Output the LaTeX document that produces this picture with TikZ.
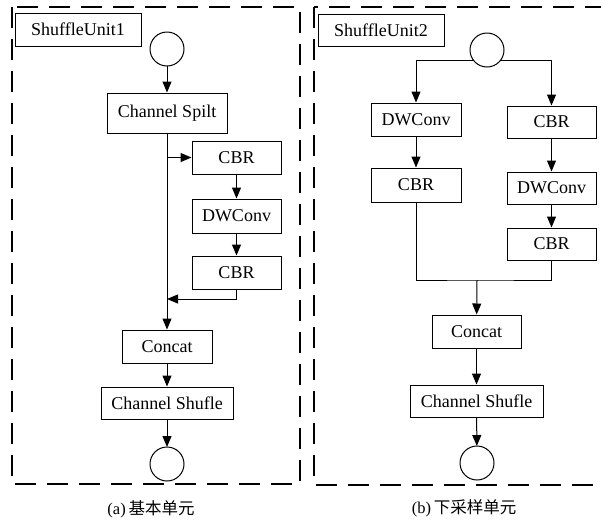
\documentclass[tikz,border=0pt]{standalone}
\usepackage{fontspec}
\setmainfont{Liberation Serif}
\newfontfamily\cjkfont{Noto Sans CJK SC}
\usetikzlibrary{arrows.meta}
\begin{document}
\begin{tikzpicture}[x=1pt,y=-1pt,
  blk/.style={draw, line width=1pt, inner sep=0pt, align=center,
    font=\fontsize{18}{21}\selectfont},
  port/.style={draw, circle, line width=1pt, fill=white, inner sep=0pt,
    outer sep=0pt, minimum size=34pt},
  arr/.style={line width=1pt, -{Triangle[length=11pt,width=9pt]}},
  ln/.style={line width=1pt},
  frame/.style={line width=1.1pt, dash pattern=on 21pt off 11pt},
  captext/.style={font=\fontsize{16.5}{19}\selectfont}]
\useasboundingbox (0,0) rectangle (601,520);

% ---- left unit: basic ShuffleNet block ----
\draw[frame] (12,7) rectangle (300,484);
\node[blk, minimum width=126pt, minimum height=33pt] (su1) at (78,29.5) {ShuffleUnit1};
\node[port] (in1) at (167,49) {};
\node[blk, minimum width=120pt, minimum height=40pt] (split) at (167,113) {Channel Spilt};
\node[blk, minimum width=89pt, minimum height=33pt] (cbr1) at (236.5,157.5) {CBR};
\node[blk, minimum width=89pt, minimum height=34pt] (dw1) at (236.5,216) {DWConv};
\node[blk, minimum width=89pt, minimum height=33pt] (cbr2) at (236.5,272.5) {CBR};
\node[blk, minimum width=90pt, minimum height=33pt] (concat1) at (167,346.5) {Concat};
\node[blk, minimum width=132pt, minimum height=32pt] (shuf1) at (167,403) {Channel Shufle};
\node[port] (out1) at (167,464) {};
\coordinate (ret1) at (167,299);

\draw[arr] (in1) -- (split);
\draw[arr] (split) -- (concat1);
\draw[arr] (split.south |- cbr1.west) -- (cbr1.west);
\draw[arr] (cbr1) -- (dw1);
\draw[arr] (dw1) -- (cbr2);
\draw[arr] (cbr2.south) |- (ret1);
\draw[arr] (concat1) -- (shuf1);
\draw[arr] (shuf1) -- (out1);

% ---- right unit: down-sampling block ----
\draw[frame] (314,7) rectangle (606,485);
\node[blk, minimum width=126pt, minimum height=32pt] (su2) at (381,30) {ShuffleUnit2};
\node[blk, minimum width=90pt, minimum height=33pt] (dwL) at (416,119.5) {DWConv};
\node[blk, minimum width=89pt, minimum height=32pt] (cbrR1) at (551.5,122) {CBR};
\node[blk, minimum width=90pt, minimum height=34pt] (cbrL2) at (416,185) {CBR};
\node[blk, minimum width=89pt, minimum height=32pt] (dwR2) at (551.5,188) {DWConv};
\node[blk, minimum width=89pt, minimum height=32pt] (cbrR3) at (551.5,244) {CBR};
\node[blk, minimum width=89pt, minimum height=33pt] (concat2) at (476.5,331.5) {Concat};
\node[blk, minimum width=133pt, minimum height=32pt] (shuf2) at (476.5,401) {Channel Shufle};
\node[port] (out2) at (477,463) {};
\node[port] (in2) at (487,50) {};
\coordinate (jn) at (477,280);

\draw[arr] (in2.220) -| (dwL);
\draw[arr] (in2.-40) -| (cbrR1);
\draw[arr] (dwL) -- (cbrL2);
\draw[arr] (cbrR1) -- (dwR2);
\draw[arr] (dwR2) -- (cbrR3);
\draw[ln] (cbrL2.south) |- (jn) -| (cbrR3.south);
\draw[arr] (jn) -- (concat2);
\draw[arr] (concat2) -- (shuf2);
\draw[arr] (shuf2) -- (out2);

% ---- captions ----
\node[captext] (capa) at (151,509) {(a)\,{\cjkfont 基本单元}};
\node[captext] (capb) at (464,508) {(b)\,{\cjkfont 下采样单元}};
\end{tikzpicture}
\end{document}
